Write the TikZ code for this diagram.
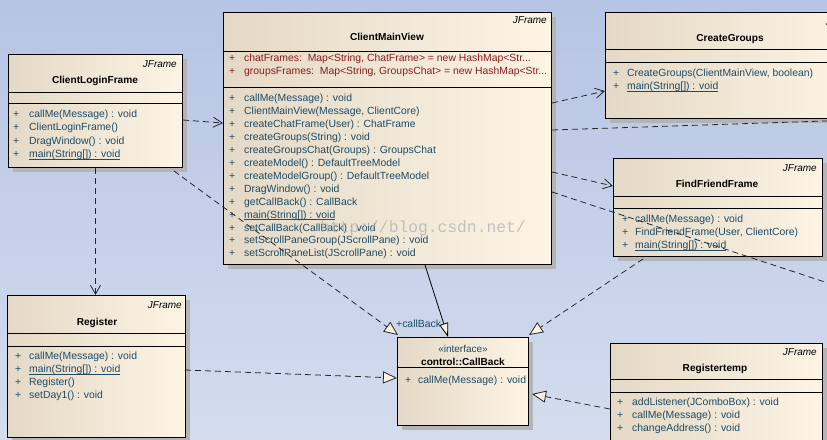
\documentclass[tikz,border=0pt]{standalone}
\usepackage{fontspec}
\setmainfont{Liberation Sans}
\newfontfamily\wmfont{Liberation Mono}
\usetikzlibrary{arrows.meta,shadows,calc}
\definecolor{bgtop}{HTML}{B6C4E4}
\definecolor{bgbot}{HTML}{D4DCEE}
\definecolor{boxl}{HTML}{E4D9C6}
\definecolor{boxr}{HTML}{FDF4E4}
\definecolor{optxt}{HTML}{1E4B66}
\definecolor{attxt}{HTML}{8C1A1A}
\definecolor{shad}{HTML}{B4B4B4}
\definecolor{tipfill}{HTML}{FBF3E6}
\newcommand\myul[1]{\setbox0=\hbox{#1}\rlap{\rule[-2pt]{\wd0}{0.7pt}}\box0}
\newcommand\sepline[2]{\draw[sepl] ($(#1.north west)+(0,#2)$) -- ($(#1.north east)+(0,#2)$);}
\tikzset{
  cbox/.style={anchor=north west, draw=black, line width=1pt, inner sep=0pt,
    left color=boxl, right color=boxr,
    drop shadow={shadow xshift=4pt, shadow yshift=-4pt, fill=shad, opacity=1}},
  sepl/.style={draw=black, line width=1pt},
  basetxt/.style={inner sep=0pt, text height=7pt, text depth=0pt, font=\fontsize{10}{12}\selectfont},
  mtxt/.style={basetxt, anchor=west, text=optxt, font=\fontsize{10.4}{12}\selectfont},
  atxt/.style={basetxt, anchor=west, text=attxt, font=\fontsize{10.4}{12}\selectfont},
  ctitle/.style={basetxt, font=\bfseries\fontsize{10.1}{12}\selectfont},
  stereo/.style={basetxt, anchor=east, font=\itshape\fontsize{10}{12}\selectfont},
  dep/.style={draw=black!85, line width=0.8pt, dash pattern=on 6pt off 4pt},
  depv/.style={dep, -{Straight Barb[length=9pt,width=10pt]}},
  real/.style={dep, -{Triangle[length=14pt,width=12pt,fill=tipfill]}},
  assoc/.style={draw=black, line width=0.8pt, -{Triangle[length=14pt,width=9pt,fill=tipfill]}},
  wm/.style={inner sep=0pt, font=\wmfont\fontsize{16.3}{18}\selectfont, text=black!30, opacity=0.75}
}
\begin{document}
\begin{tikzpicture}[x=1pt,y=-1pt]
\useasboundingbox (0,0) rectangle (827,439);
\shade[top color=bgtop, bottom color=bgbot] (0,0) rectangle (827,439);
\begin{scope}
\clip (0,0) rectangle (827,439);
% ClientLoginFrame
\node[cbox, minimum width=174pt, minimum height=113pt] (cl) at (8,54) {};
\node[stereo] (cl-s) at (177,64) {JFrame};
\node[ctitle] (cl-t) at (95,80) {ClientLoginFrame};
\sepline{cl}{38}\sepline{cl}{49}
\foreach \t [count=\i from 0] in {callMe(Message) : void, ClientLoginFrame(), DragWindow() : void, \myul{main(String[]) : void}}{
  \node[mtxt] (cl-p\i) at (13,114+13.3*\i) {+};
  \node[mtxt] (cl-m\i) at (29,114+13.3*\i) {\t};
}
% ClientMainView
\node[cbox, minimum width=328pt, minimum height=252pt] (cmv) at (223,12) {};
\node[stereo] (cmv-s) at (547,20) {JFrame};
\node[ctitle] (cmv-t) at (387,37) {ClientMainView};
\sepline{cmv}{39}\sepline{cmv}{75}
\node[atxt] (cmv-ap0) at (229,58) {+};
\node[atxt] (cmv-a0) at (244,58) {chatFrames:\ \ Map<String, ChatFrame> = new HashMap<Str...};
\node[atxt] (cmv-ap1) at (229,71) {+};
\node[atxt] (cmv-a1) at (244,71) {groupsFrames:\ \ Map<String, GroupsChat> = new HashMap<Str...};
\foreach \t [count=\i from 0] in {callMe(Message) : void, {ClientMainView(Message, ClientCore)}, createChatFrame(User) : ChatFrame, createGroups(String) : void, createGroupsChat(Groups) : GroupsChat, createModel() : DefaultTreeModel, createModelGroup() : DefaultTreeModel, DragWindow() : void, getCallBack() : CallBack, \myul{main(String[]) : void}, setCallBack(CallBack) : void, setScrollPaneGroup(JScrollPane) : void, setScrollPaneList(JScrollPane) : void}{
  \node[mtxt] (cmv-p\i) at (229,98+12.95*\i) {+};
  \node[mtxt] (cmv-m\i) at (244,98+12.95*\i) {\t};
}
% CreateGroups
\node[cbox, minimum width=250pt, minimum height=106pt] (cg) at (605,12) {};
\node[stereo] (cg-s) at (860,22) {JFrame};
\node[ctitle] (cg-t) at (730,38) {CreateGroups};
\sepline{cg}{37}\sepline{cg}{50}
\foreach \t [count=\i from 0] in {{CreateGroups(ClientMainView, boolean)}, \myul{main(String[]) : void}}{
  \node[mtxt] (cg-p\i) at (613,73+13*\i) {+};
  \node[mtxt] (cg-m\i) at (627,73+13*\i) {\t};
}
% FindFriendFrame
\node[cbox, minimum width=209pt, minimum height=98pt] (ff) at (613,158) {};
\node[stereo] (ff-s) at (817,168) {JFrame};
\node[ctitle] (ff-t) at (717,184) {FindFriendFrame};
\sepline{ff}{38}\sepline{ff}{50}
\foreach \t [count=\i from 0] in {callMe(Message) : void, {FindFriendFrame(User, ClientCore)}, \myul{main(String[]) : void}}{
  \node[mtxt] (ff-p\i) at (622,219+13*\i) {+};
  \node[mtxt] (ff-m\i) at (635,219+13*\i) {\t};
}
% Register
\node[cbox, minimum width=178pt, minimum height=142pt] (rg) at (7,295) {};
\node[stereo] (rg-s) at (182,305) {JFrame};
\node[ctitle] (rg-t) at (97,322) {Register};
\sepline{rg}{38}\sepline{rg}{51}
\foreach \t [count=\i from 0] in {callMe(Message) : void, \myul{main(String[]) : void}, Register(), setDay1() : void}{
  \node[mtxt] (rg-p\i) at (15,356+13*\i) {+};
  \node[mtxt] (rg-m\i) at (29,356+13*\i) {\t};
}
% CallBack
\node[cbox, minimum width=131pt, minimum height=88pt] (cb) at (397,337) {};
\node[basetxt, text=optxt] (cb-s) at (463,349) {«interface»};
\node[ctitle] (cb-t) at (463,362) {control::CallBack};
\sepline{cb}{30}
\node[mtxt] (cb-p0) at (405,380) {+};
\node[mtxt] (cb-m0) at (418,380) {callMe(Message) : void};
% Registertemp
\node[cbox, minimum width=212pt, minimum height=120pt] (rt) at (610,343) {};
\node[stereo] (rt-s) at (817,352) {JFrame};
\node[ctitle] (rt-t) at (715,368) {Registertemp};
\sepline{rt}{36}\sepline{rt}{49}
\foreach \t [count=\i from 0] in {addListener(JComboBox) : void, callMe(Message) : void, changeAddress() : void}{
  \node[mtxt] (rt-p\i) at (617,402+13*\i) {+};
  \node[mtxt] (rt-m\i) at (632,402+13*\i) {\t};
}
% watermark
\node[wm] (wmark) at (423,228) {http://blog.csdn.net/};
% connectors
\coordinate (offa) at (840,120.5);
\coordinate (offb) at (840,287);
\draw[depv] ($(cl.north east)+(0,66)$) -- ($(cmv.north west)+(0,111)$);
\draw[depv] (cl.south) -- (cl.south |- rg.north);
\draw[real] ($(cl.south east)+(-9,3)$) -- ($(cb.north west)+(1,-2)$);
\draw[depv] ($(cmv.north east)+(0,91)$) -- ($(cg.north west)+(0,79)$);
\draw[dep] ($(cmv.north east)+(0,118)$) -- (offa);
\draw[depv] ($(cmv.north east)+(0,160)$) -- ($(ff.north west)+(0,28)$);
\draw[dep] ($(cmv.north east)+(0,180)$) -- (offb);
\draw[assoc] ($(cmv.south west)+(202,0)$) -- ($(cb.north west)+(51,0)$);
\node[mtxt] (cb-lbl) at (396,324) {+callBack};
\draw[real] ($(ff.south west)+(30,2)$) -- ($(cb.north east)+(0,-2)$);
\draw[real] ($(rt.north west)+(0,66)$) -- ($(cb.north east)+(3,57)$);
\draw[real] ($(rg.north west)+(178,75)$) -- ($(cb.north west)+(0,41)$);
\end{scope}
\end{tikzpicture}
\end{document}
